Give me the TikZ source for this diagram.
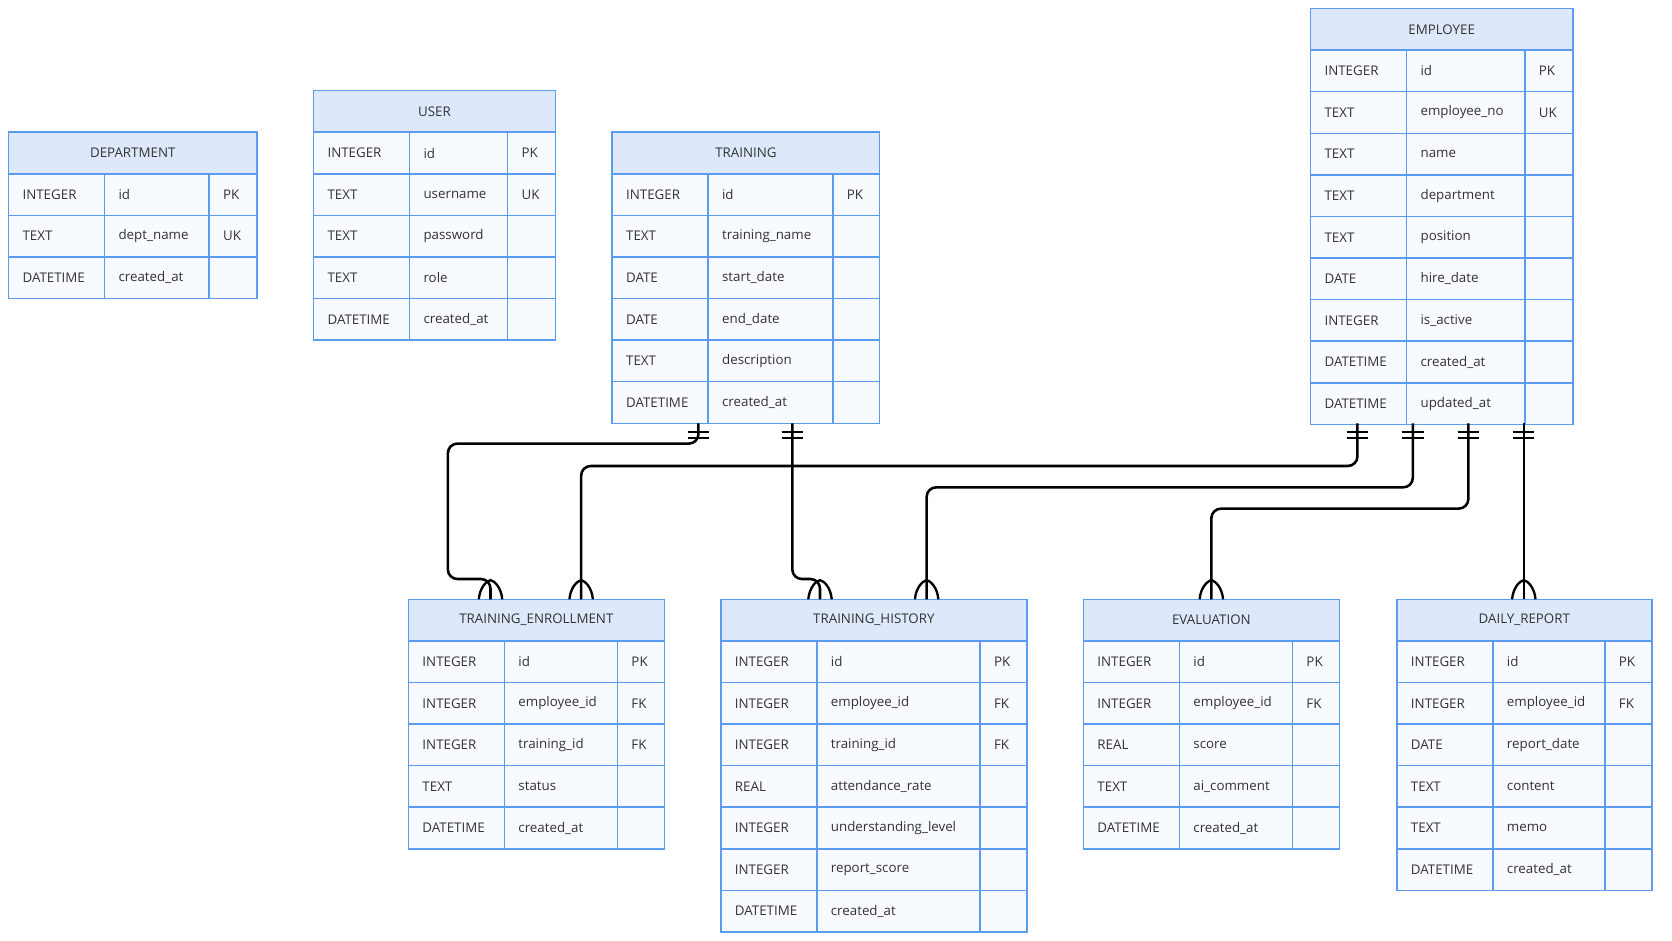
\documentclass[tikz,border=0pt]{standalone}
\usepackage{fontspec}
\setmainfont{Open Sans}
\usetikzlibrary{calc}
\definecolor{bd}{HTML}{5B9CF0}
\definecolor{hd}{HTML}{DDE9FB}
\definecolor{rw}{HTML}{F7FAFF}
\tikzset{
  box/.style={draw=bd,line width=1.4pt},
  txt/.style={font=\fontsize{12.5}{14}\selectfont,text=black!80,inner sep=0pt},
  conn/.style={line width=2.4pt,rounded corners=9pt},
  one/.pic={\draw[line width=2.2pt] (-10,8)--(10,8) (-10,14)--(10,14);},
  many/.pic={\draw[line width=2.2pt] (-11,0) .. controls (-10,-11) and (-4,-17) .. (0,-18) .. controls (4,-17) and (10,-11) .. (11,0);}
}
\newcommand\ertab[8]{%
  \fill[hd] (#2,#6) rectangle (#5,#6+39);
  \draw[box] (#2,#6) rectangle (#5,#6+39);
  \node[txt] (#1) at ({(#2+#5)/2},#6+19.5) {#7};
  \foreach \t/\n/\k [count=\i] in {#8} {
    \pgfmathsetmacro\yy{#6+39*\i}
    \fill[rw] (#2,\yy) rectangle (#5,\yy+39);
    \draw[box] (#2,\yy) rectangle (#5,\yy+39) (#3,\yy)--(#3,\yy+39) (#4,\yy)--(#4,\yy+39);
    \node[txt,anchor=west] (#1-t\i) at (#2+13,\yy+19.5) {\t};
    \node[txt,anchor=west] (#1-n\i) at (#3+13,\yy+19.5) {\n};
    \node[txt,anchor=west] (#1-k\i) at (#4+13,\yy+19.5) {\k};
  }
}
\begin{document}
\begin{tikzpicture}[x=1pt,y=-1pt]
\useasboundingbox (0,0) rectangle (1568,882);
\ertab{dep}{8}{98}{196}{241}{124}{DEPARTMENT}{INTEGER/id/PK,TEXT/dept\_name/UK,DATETIME/created\_at/}
\ertab{usr}{294}{384}{476}{521}{85}{USER}{INTEGER/id/PK,TEXT/username/UK,TEXT/password/,TEXT/role/,DATETIME/created\_at/}
\ertab{trn}{574}{664}{781}{825}{124}{TRAINING}{INTEGER/id/PK,TEXT/training\_name/,DATE/start\_date/,DATE/end\_date/,TEXT/description/,DATETIME/created\_at/}
\ertab{emp}{1229}{1319}{1430}{1475}{8}{EMPLOYEE}{INTEGER/id/PK,TEXT/employee\_no/UK,TEXT/name/,TEXT/department/,TEXT/position/,DATE/hire\_date/,INTEGER/is\_active/,DATETIME/created\_at/,DATETIME/updated\_at/}
\ertab{ten}{383}{473}{579}{623}{562}{TRAINING\_ENROLLMENT}{INTEGER/id/PK,INTEGER/employee\_id/FK,INTEGER/training\_id/FK,TEXT/status/,DATETIME/created\_at/}
\ertab{ths}{676}{766}{919}{963}{562}{TRAINING\_HISTORY}{INTEGER/id/PK,INTEGER/employee\_id/FK,INTEGER/training\_id/FK,REAL/attendance\_rate/,INTEGER/understanding\_level/,INTEGER/report\_score/,DATETIME/created\_at/}
\ertab{evl}{1016}{1106}{1212}{1256}{562}{EVALUATION}{INTEGER/id/PK,INTEGER/employee\_id/FK,REAL/score/,TEXT/ai\_comment/,DATETIME/created\_at/}
\ertab{drp}{1310}{1400}{1505}{1549}{562}{DAILY\_REPORT}{INTEGER/id/PK,INTEGER/employee\_id/FK,DATE/report\_date/,TEXT/content/,TEXT/memo/,DATETIME/created\_at/}
% endpoints
\coordinate (a1) at (655,397); \coordinate (b1) at (460,562);
\coordinate (a2) at (743,397); \coordinate (b2) at (769,562);
\coordinate (a3) at (1273,397); \coordinate (b3) at (545,562);
\coordinate (a4) at (1325,397); \coordinate (b4) at (869,562);
\coordinate (a5) at (1377,397); \coordinate (b5) at (1136,562);
\coordinate (a6) at (1429,397); \coordinate (b6) at (1429,562);
\draw[conn] (a1) -- ++(0,19) -| ($(b1)+(-40,-19)$) -| (b1);
\draw[conn] (a2) |- ($(b2)+(0,-19)$) -- (b2);
\draw[conn] (a3) |- ($(b3)+(0,-125)$) -- (b3);
\draw[conn] (a4) |- ($(b4)+(0,-105)$) -- (b4);
\draw[conn] (a5) |- ($(b5)+(0,-85)$) -- (b5);
\draw[conn] (a6) -- (b6);
\foreach \p in {a1,a2,a3,a4,a5,a6} \pic at (\p) {one};
\foreach \p in {b1,b2,b3,b4,b5,b6} \pic at (\p) {many};
\end{tikzpicture}
\end{document}
